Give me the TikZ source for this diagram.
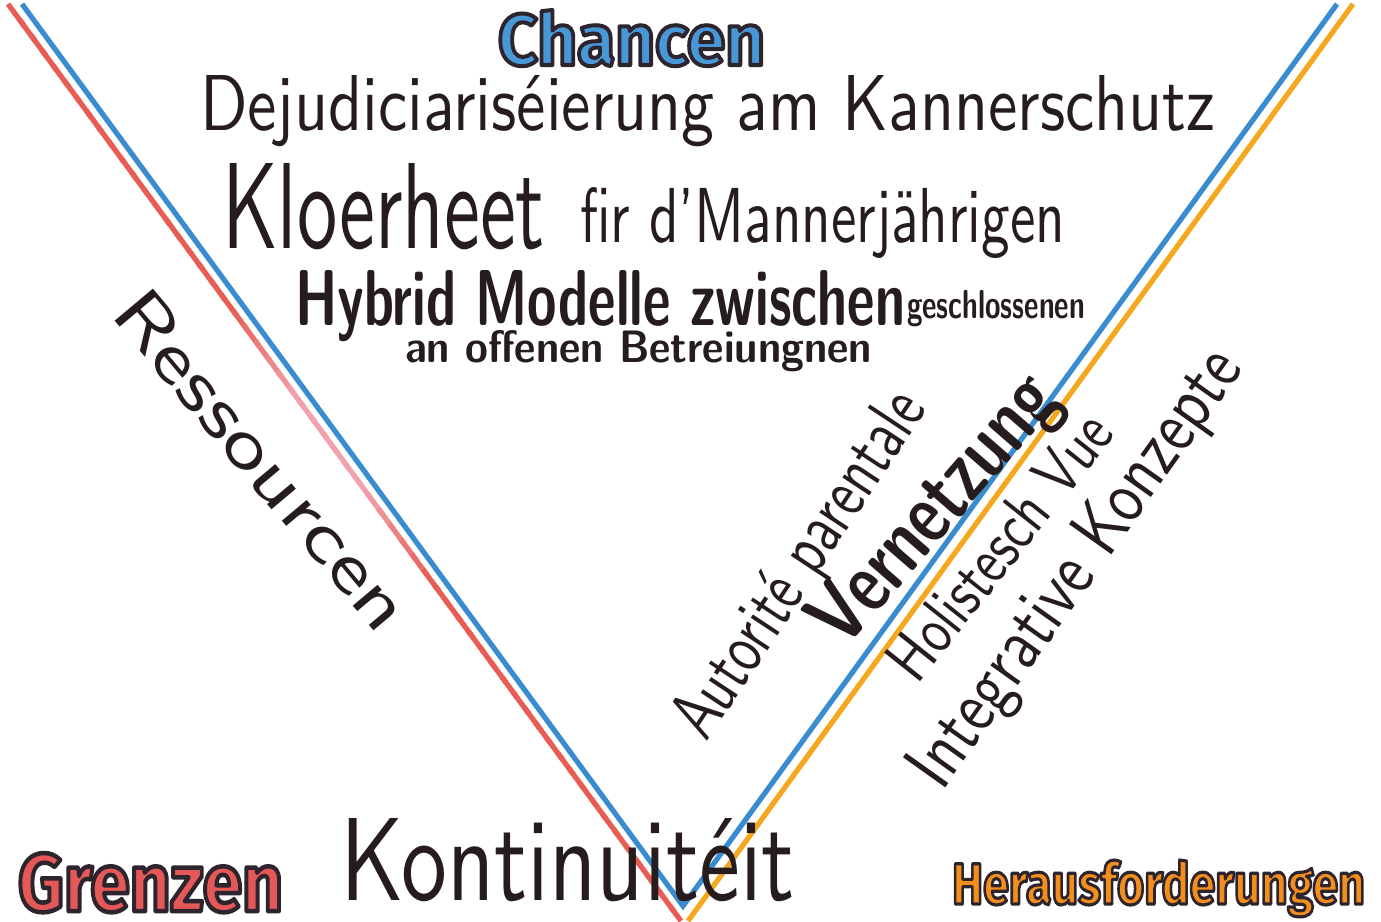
\documentclass[tikz,border=0pt]{standalone}
\usepackage{fontspec}
\usepackage{graphicx}
\usetikzlibrary{calc}
\newfontfamily\titlefont{Fira Sans}
\definecolor{ink}{RGB}{38,28,30}
\definecolor{lineblue}{RGB}{58,140,208}
\definecolor{linered}{RGB}{232,92,84}
\definecolor{linepink}{RGB}{242,162,172}
\definecolor{lineorange}{RGB}{245,168,30}
\definecolor{chancenfill}{RGB}{72,152,216}
\definecolor{grenzenfill}{RGB}{228,88,88}
\definecolor{herausfill}{RGB}{242,142,28}
\newlength\px \setlength\px{0.5pt}
\newcommand\fitbox[3]{\resizebox{#1\px}{#2\px}{#3}}
% fill + stroke text render mode (outline in dark colour)
\newcommand\outlinedtext[2]{{\color{#1}%
  \special{pdf:literal direct 2 Tr 2.2 w 1 j 0.18 0.14 0.18 RG}#2%
  \special{pdf:literal direct 0 Tr}}}
\tikzset{
  hand/.style={inner sep=0pt, outer sep=0pt, text=ink, font=\sffamily},
  handbold/.style={hand, font=\sffamily\bfseries},
  title/.style={inner sep=0pt, outer sep=0pt, font=\titlefont\bfseries\fontsize{40}{44}\selectfont},
  marker/.style={line width=2.6pt, line cap=butt}
}
\begin{document}
\begin{tikzpicture}[x=0.5pt, y=-0.5pt]
\useasboundingbox (0,0) rectangle (1381,921);
\fill[white] (0,0) rectangle (1381,921);

% coordinates of the marker lines
\coordinate (rTop) at (8,4);
\coordinate (rBot) at (681,921);
\coordinate (bL) at (22,4);
\coordinate (bV) at (683,906);
\coordinate (bR) at (1337,4);
\coordinate (oTop) at (1353,4);
\coordinate (oBot) at (688,921);

% red / pink line (left outer)
\foreach \k in {0,...,59}{
  \pgfmathsetmacro\p{max(0,min(100,(abs((\k+0.5)/60-0.48)-0.05)/0.10*100))}
  \draw[marker, color=linered!\p!linepink]
    ($(rTop)!{\k/60}!(rBot)$) -- ($(rTop)!{min(1,(\k+1.4)/60)}!(rBot)$);
}
% orange line (right outer)
\draw[marker, lineorange] (oTop) -- (oBot);
% blue V
\draw[marker, lineblue, line join=miter] (bL) -- (bV) -- (bR);

% titles
\node[title, anchor=base west] (chancen) at (498,65)
  {\fitbox{267}{55}{\outlinedtext{chancenfill}{Chancen}}};
\node[title, anchor=base west] (grenzen) at (18,911)
  {\fitbox{265}{58}{\outlinedtext{grenzenfill}{Grenzen}}};
\node[title, anchor=base west] (heraus) at (952,904)
  {\fitbox{413}{44}{\outlinedtext{herausfill}{Herausforderungen}}};

% upper texts
\node[hand, anchor=base west] (dejud) at (200,130)
  {\fitbox{1015}{55}{Dejudiciariséierung am Kannerschutz}};
\node[hand, anchor=base west] (kloer) at (222,248)
  {\fitbox{323}{85}{Kloerheet}};
\node[hand, anchor=base west] (fir) at (580,242)
  {\fitbox{485}{55}{fir d'Mannerjährigen}};
\node[handbold, anchor=base west] (hybrid) at (295,325)
  {\fitbox{610}{55}{Hybrid Modelle zwischen}};
\node[handbold, anchor=base west] (geschl) at (907,318)
  {\fitbox{178}{28}{geschlossenen}};
\node[handbold, anchor=base west] (offen) at (405,362)
  {\fitbox{467}{32}{an offenen Betreiungnen}};

% rotated texts
\node[hand, rotate=-50] (ress) at (263,460)
  {\fitbox{420}{50}{Ressourcen}};
\node[hand, rotate=56.5] (autor) at (802,566)
  {\fitbox{400}{50}{Autorité parentale}};
\node[handbold, rotate=49] (vernetz) at (937,512)
  {\fitbox{330}{60}{Vernetzung}};
\node[hand, rotate=51.5] (holist) at (999,546)
  {\fitbox{320}{46}{Holistesch Vue}};
\node[hand, rotate=54.6] (integr) at (1078,570)
  {\fitbox{520}{52}{Integrative Konzepte}};

% bottom
\node[hand, anchor=base west] (kont) at (340,900)
  {\fitbox{455}{82}{Kontinuitéit}};
\end{tikzpicture}
\end{document}
